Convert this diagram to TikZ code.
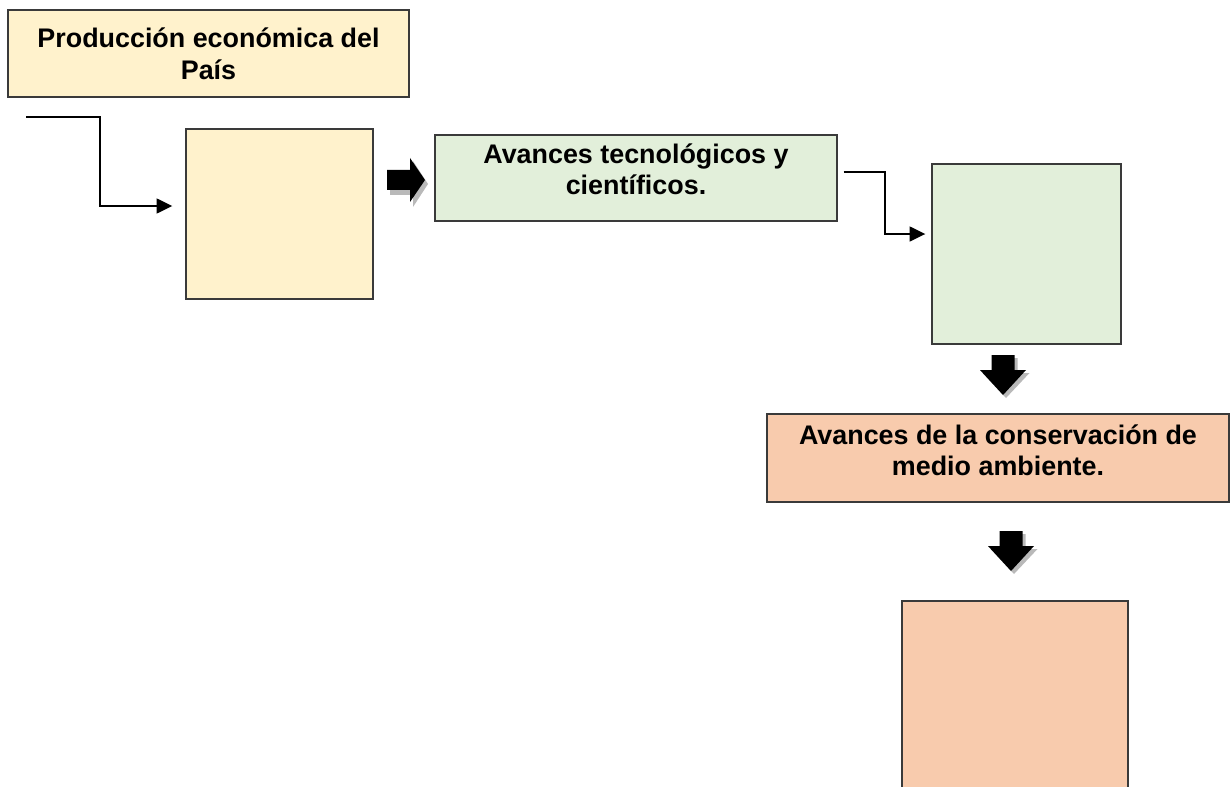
\documentclass[tikz,border=0pt]{standalone}
\usepackage{fontspec}
\setmainfont{Liberation Sans}
\usetikzlibrary{arrows.meta}
\definecolor{cyellow}{HTML}{FFF2CC}
\definecolor{cgreen}{HTML}{E2EFDA}
\definecolor{corange}{HTML}{F8CBAD}
\definecolor{cborder}{HTML}{3A3A3A}
\tikzset{
  box/.style={draw=cborder, line width=0.8pt, inner sep=0pt, align=center,
    font=\fontsize{15.3}{18}\selectfont\bfseries},
  conn/.style={draw=black, line width=1.1pt,
    -{Triangle[length=9pt,width=8.5pt]}},
  pics/blockright/.style={code={
    \fill[gray!55] (3,-7) -- (26,-7) -- (26,-19) -- (41,4) -- (26,27) -- (26,15) -- (3,15) -- cycle;
    \fill[black] (0,-10) -- (23,-10) -- (23,-22) -- (38,0) -- (23,22) -- (23,10) -- (0,10) -- cycle;
  }},
  pics/blockdown/.style={code={
    \fill[gray!55] (-8.5,3) -- (14.5,3) -- (14.5,18) -- (26.5,18) -- (3,43) -- (-20.5,18) -- (-8.5,18) -- cycle;
    \fill[black] (-11.5,0) -- (11.5,0) -- (11.5,15) -- (23,15) -- (0,40) -- (-23,15) -- (-11.5,15) -- cycle;
  }}
}
\begin{document}
\begin{tikzpicture}[x=0.02cm,y=-0.02cm]
\useasboundingbox (0,0) rectangle (1230,787);
\clip (0,0) rectangle (1230,787);
% boxes
\node[box, fill=cyellow, minimum width=8.02cm, minimum height=1.74cm] (P) at (208.5,53.5) {Producción económica del\\País};
\node[box, fill=cyellow, minimum width=3.74cm, minimum height=3.4cm] (A) at (279.5,214) {};
\node[box, fill=cgreen, minimum width=8.04cm, minimum height=1.72cm] (G) at (636,178) {Avances tecnológicos y\\científicos.\rule[-10pt]{0pt}{1pt}};
\node[box, fill=cgreen, minimum width=3.78cm, minimum height=3.6cm] (B) at (1026.5,254) {};
\node[box, fill=corange, minimum width=9.24cm, minimum height=1.76cm] (O) at (998,458) {Avances de la conservación de\\medio ambiente.\rule[-9pt]{0pt}{1pt}};
\node[box, fill=corange, minimum width=4.52cm, minimum height=3.98cm] (C) at (1015,700.5) {};
% connectors
\coordinate (s1) at (26,117);
\coordinate (e1) at ([xshift=-0.26cm,yshift=0.16cm]A.west);
\draw[conn] (s1) -- ++(74,0) |- (e1);
\coordinate (s2) at ([xshift=0.12cm,yshift=0.12cm]G.east);
\coordinate (e2) at ([xshift=-0.12cm,yshift=0.4cm]B.west);
\draw[conn] (s2) -- ++(41,0) |- (e2);
% block arrows
\pic at (387,180) {blockright};
\pic at (1003,355) {blockdown};
\pic at (1011,531) {blockdown};
\end{tikzpicture}
\end{document}
